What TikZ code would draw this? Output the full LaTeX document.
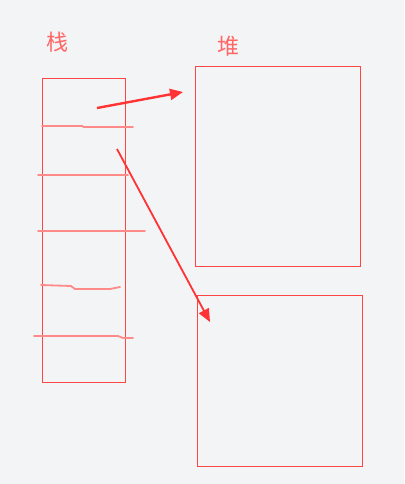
\documentclass[tikz,border=0pt]{standalone}
\usepackage{fontspec}
\newfontfamily\cjk{Noto Sans CJK SC}
\usetikzlibrary{arrows.meta}
\definecolor{bg}{HTML}{F3F4F6}
\definecolor{boxred}{HTML}{FF4444}
\definecolor{pen}{HTML}{FF8A8A}
\definecolor{arr}{HTML}{FF3333}
\definecolor{lbl}{HTML}{FF6666}
\begin{document}
\begin{tikzpicture}[x=1pt,y=-1pt,
  mem/.style={draw=boxred,line width=0.8pt,inner sep=0pt,minimum width=0pt},
  divider/.style={draw=pen,line width=1.8pt,line cap=round,line join=round},
  ptr/.style={draw=arr,line width=2.4pt,-{Triangle[length=13pt,width=11pt]}},
  lab/.style={font=\cjk\fontsize{22}{22}\selectfont,text=lbl}]
\fill[bg] (0,0) rectangle (404,484);
\useasboundingbox (0,0) rectangle (404,484);
\node[lab] (tzhan) at (57,42) {栈};
\node[lab] (tdui) at (228,46) {堆};
\node[mem,minimum width=83pt,minimum height=304pt] (stack) at (83.5,230) {};
\node[mem,minimum width=165pt,minimum height=200pt] (heapa) at (277.5,166) {};
\node[mem,minimum width=165pt,minimum height=171pt] (heapb) at (279.5,380.5) {};
\draw[divider] (42,126) -- (82,126) -- (84,127) -- (133,127);
\draw[divider] (38,175) -- (128,175);
\draw[divider] (38,231) -- (145,231);
\draw[divider] (41,285) -- (71,286) -- (75,289) -- (110,289) -- (120,287);
\draw[divider] (34,336) -- (118,336) -- (123,338) -- (133,338);
\coordinate (p1) at (97,108);
\coordinate (h1) at (183,92);
\coordinate (p2) at (117,149);
\coordinate (h2) at (210,322);
\draw[ptr] (p1) -- (h1);
\draw[ptr,line width=1.8pt] (p2) -- (h2);
\end{tikzpicture}
\end{document}
